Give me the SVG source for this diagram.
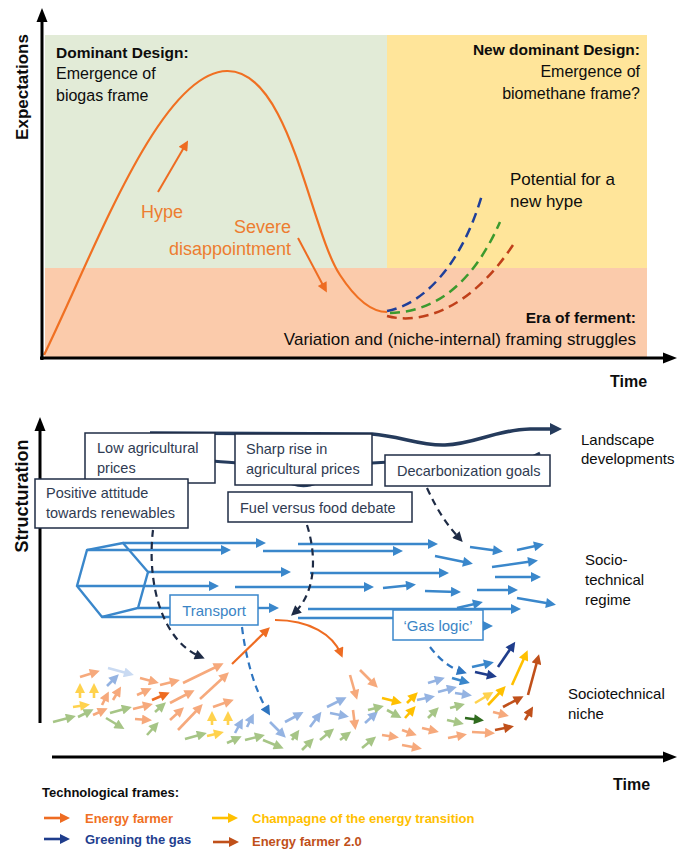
<svg xmlns="http://www.w3.org/2000/svg" width="679" height="851" viewBox="0 0 679 851">
<style>
text{font-family:"Liberation Sans",Arial,sans-serif;fill:#0d0d0d}
.b15{font-size:15.5px;font-weight:bold}
.r16{font-size:16px}
.r17{font-size:17px}
.or{font-size:18px;fill:#ed7d31}
.axis{font-size:17px;font-weight:bold}
.bx{fill:#fff;stroke:#1f2d45;stroke-width:1.5}
.bt{font-size:14.5px;fill:#2f3b52}
.bbx{fill:#fff;stroke:#3a87cb;stroke-width:1.5}
.bbt{font-size:15px;fill:#3a84c5}
.lab{font-size:15px}
.leg{font-size:13px;font-weight:bold}
.reg{stroke:#3a87cb;stroke-width:2.4;fill:none;marker-end:url(#mMB)}
.regp{stroke:#3a87cb;stroke-width:2.4;fill:none}
.nav{stroke:#1e2b45;stroke-width:2.2;fill:none;stroke-dasharray:7 5;marker-end:url(#mNAV)}
.dbl{stroke:#2e75c0;stroke-width:2.2;fill:none;stroke-dasharray:7 5;marker-end:url(#mDBL)}
.ls{stroke:#253b5c;stroke-width:3.5;fill:none}
.n line{stroke-width:2.6}
.P{stroke:#f6a97c;marker-end:url(#mP)}
.O{stroke:#ee6c22;marker-end:url(#mO)}
.G{stroke:#a6c586;marker-end:url(#mG)}
.B{stroke:#94b3e2;marker-end:url(#mB)}
.VB{stroke:#c9daf2;marker-end:url(#mVB)}
.LY{stroke:#ffd24d;marker-end:url(#mLY)}
.Y{stroke:#ffc000;marker-end:url(#mY)}
.R{stroke:#c0501a;marker-end:url(#mR)}
.DB{stroke:#1f3d8c;marker-end:url(#mDB)}
.DG{stroke:#2f6b1e;marker-end:url(#mDG)}
.MB{stroke:#3a87cb;marker-end:url(#mMBs)}
</style>
<defs>
<marker id="mP" viewBox="0 0 10 10" refX="6" refY="5" markerWidth="11" markerHeight="10" markerUnits="userSpaceOnUse" orient="auto"><path d="M0,0L10,5L0,10z" fill="#f6a97c"/></marker>
<marker id="mO" viewBox="0 0 10 10" refX="6" refY="5" markerWidth="11" markerHeight="10" markerUnits="userSpaceOnUse" orient="auto"><path d="M0,0L10,5L0,10z" fill="#ee6c22"/></marker>
<marker id="mG" viewBox="0 0 10 10" refX="6" refY="5" markerWidth="11" markerHeight="10" markerUnits="userSpaceOnUse" orient="auto"><path d="M0,0L10,5L0,10z" fill="#a6c586"/></marker>
<marker id="mB" viewBox="0 0 10 10" refX="6" refY="5" markerWidth="11" markerHeight="10" markerUnits="userSpaceOnUse" orient="auto"><path d="M0,0L10,5L0,10z" fill="#94b3e2"/></marker>
<marker id="mVB" viewBox="0 0 10 10" refX="6" refY="5" markerWidth="11" markerHeight="10" markerUnits="userSpaceOnUse" orient="auto"><path d="M0,0L10,5L0,10z" fill="#c9daf2"/></marker>
<marker id="mLY" viewBox="0 0 10 10" refX="6" refY="5" markerWidth="11" markerHeight="10" markerUnits="userSpaceOnUse" orient="auto"><path d="M0,0L10,5L0,10z" fill="#ffd24d"/></marker>
<marker id="mY" viewBox="0 0 10 10" refX="6" refY="5" markerWidth="11" markerHeight="10" markerUnits="userSpaceOnUse" orient="auto"><path d="M0,0L10,5L0,10z" fill="#ffc000"/></marker>
<marker id="mR" viewBox="0 0 10 10" refX="6" refY="5" markerWidth="11" markerHeight="10" markerUnits="userSpaceOnUse" orient="auto"><path d="M0,0L10,5L0,10z" fill="#c0501a"/></marker>
<marker id="mDB" viewBox="0 0 10 10" refX="6" refY="5" markerWidth="11" markerHeight="10" markerUnits="userSpaceOnUse" orient="auto"><path d="M0,0L10,5L0,10z" fill="#1f3d8c"/></marker>
<marker id="mDG" viewBox="0 0 10 10" refX="6" refY="5" markerWidth="11" markerHeight="10" markerUnits="userSpaceOnUse" orient="auto"><path d="M0,0L10,5L0,10z" fill="#2f6b1e"/></marker>
<marker id="mMBs" viewBox="0 0 10 10" refX="6" refY="5" markerWidth="11" markerHeight="10" markerUnits="userSpaceOnUse" orient="auto"><path d="M0,0L10,5L0,10z" fill="#3a87cb"/></marker>
<marker id="mMB" viewBox="0 0 10 10" refX="6" refY="5" markerWidth="12" markerHeight="10" markerUnits="userSpaceOnUse" orient="auto"><path d="M0,0L10,5L0,10z" fill="#3a87cb"/></marker>
<marker id="mNAV" viewBox="0 0 10 10" refX="6" refY="5" markerWidth="12" markerHeight="10" markerUnits="userSpaceOnUse" orient="auto"><path d="M0,0L10,5L0,10z" fill="#1e2b45"/></marker>
<marker id="mDBL" viewBox="0 0 10 10" refX="6" refY="5" markerWidth="12" markerHeight="10" markerUnits="userSpaceOnUse" orient="auto"><path d="M0,0L10,5L0,10z" fill="#2e75c0"/></marker>
<marker id="mLS" viewBox="0 0 10 10" refX="5" refY="5" markerWidth="16" markerHeight="12" markerUnits="userSpaceOnUse" orient="auto"><path d="M0,0L10,5L0,10z" fill="#253b5c"/></marker>
<marker id="mOR" viewBox="0 0 10 10" refX="6" refY="5" markerWidth="12" markerHeight="10" markerUnits="userSpaceOnUse" orient="auto"><path d="M0,0L10,5L0,10z" fill="#ee6c22"/></marker>
</defs>

<!-- ===== TOP CHART ===== -->
<g id="hype-cycle">
<rect x="45" y="35" width="342" height="233" fill="#e2ebd7"/>
<rect x="387" y="35" width="260" height="233" fill="#ffe59a"/>
<rect x="45" y="268" width="602" height="89" fill="#fbcbab"/>

<path d="M44,355 C95,250 160,72 227,71 C290,70 310,230 340,275 C355,298 370,312 387,312" fill="none" stroke="#f07022" stroke-width="2.2"/>
<path d="M387,311 C420,305 460,270 482,195" fill="none" stroke="#1f3f9a" stroke-width="2.5" stroke-dasharray="10 6"/>
<path d="M390,313 C430,312 470,290 500,222" fill="none" stroke="#3c9a2e" stroke-width="2.5" stroke-dasharray="10 6"/>
<path d="M387,316 C420,325 470,310 513,245" fill="none" stroke="#c0401a" stroke-width="2.5" stroke-dasharray="10 6"/>

<line x1="158" y1="192" x2="186" y2="144" stroke="#ee6c22" stroke-width="2" marker-end="url(#mOR)"/>
<line x1="298" y1="238" x2="325" y2="289" stroke="#ee6c22" stroke-width="2" marker-end="url(#mOR)"/>

<line x1="42" y1="360" x2="42" y2="20" stroke="#000" stroke-width="3"/>
<polygon points="42,8 36.5,22 47.5,22" fill="#000"/>
<line x1="40" y1="358" x2="664" y2="358" stroke="#000" stroke-width="3"/>
<polygon points="677,358 663,352.5 663,363.5" fill="#000"/>

<text transform="translate(28,87) rotate(-90)" text-anchor="middle" class="axis">Expectations</text>
<text x="56" y="58" class="b15">Dominant Design:</text>
<text x="56" y="79" class="r16">Emergence of</text>
<text x="56" y="101" class="r16">biogas frame</text>
<text x="640" y="55" class="b15" text-anchor="end">New dominant Design:</text>
<text x="640" y="77" class="r16" text-anchor="end">Emergence of</text>
<text x="640" y="99" class="r16" text-anchor="end">biomethane frame?</text>
<text x="510" y="185" class="r17">Potential for a</text>
<text x="510" y="207" class="r17">new hype</text>
<text x="141" y="218" class="or">Hype</text>
<text x="291" y="233" class="or" text-anchor="end">Severe</text>
<text x="291" y="255" class="or" text-anchor="end">disappointment</text>
<text x="636" y="323" class="b15" text-anchor="end">Era of ferment:</text>
<text x="636" y="345" class="r17" text-anchor="end">Variation and (niche-internal) framing struggles</text>
<text x="610" y="387" class="axis" style="font-size:16px">Time</text>
</g>

<!-- ===== BOTTOM CHART ===== -->
<g id="axes-bottom">
<line x1="40" y1="723" x2="40" y2="430" stroke="#000" stroke-width="3"/>
<polygon points="40,417 34.5,431 45.5,431" fill="#000"/>
<line x1="52" y1="757" x2="664" y2="757" stroke="#000" stroke-width="3"/>
<polygon points="677,757 663,751.5 663,762.5" fill="#000"/>
<text transform="translate(28,496) rotate(-90)" text-anchor="middle" class="axis" style="font-size:18px">Structuration</text>
<text x="613" y="790" class="axis" style="font-size:16px">Time</text>
</g>

<g id="level-labels">
<text x="581" y="445" class="lab">Landscape</text>
<text x="581" y="464" class="lab">developments</text>
<text x="585" y="565" class="lab">Socio-</text>
<text x="585" y="585" class="lab">technical</text>
<text x="585" y="605" class="lab">regime</text>
<text x="568" y="699" class="lab">Sociotechnical</text>
<text x="568" y="719" class="lab">niche</text>
</g>

<g id="connectors">
<!-- landscape trajectories -->
<path class="ls" d="M150,433 L372,434 C400,436 420,446 445,445 C475,444 495,430 530,429 L556,429" marker-end="url(#mLS)"/>
<path class="ls" style="stroke-width:3" d="M150,458 C190,458 215,462 240,463 C270,470 290,490 310,485 C330,480 350,463 372,463 L390,462 C450,462 505,462 528,459 L540,453"/>

<!-- regime -->
<polygon class="regp" points="123,543 87,550 77,586 102,617 138,608 148,572"/>
<path class="reg" d="M123,543 L262,543"/>
<path class="reg" d="M298,544 L434,544"/>
<path class="reg" d="M87,550 L227,550"/>
<path class="reg" d="M263,551 L399,551"/>
<path class="reg" d="M148,572 L287,572"/>
<path class="reg" d="M310,573 L445,573"/>
<path class="reg" d="M77,586 L215,586"/>
<path class="reg" d="M235,587 L370,587"/>
<path class="reg" d="M383,588 L412,585"/>
<path class="reg" d="M425,591 L457,592"/>
<path class="reg" d="M477,590 L514,590"/>
<path class="reg" d="M517,598 L552,604"/>
<path class="regp" d="M138,608 L175,608"/>
<path class="reg" d="M258,608 L275,608"/>
<path class="reg" d="M308,609 L517,609"/>
<path class="reg" d="M457,608 L479,603"/>
<path class="regp" d="M102,617 L175,617"/>
<path class="regp" d="M298,618 L400,618"/>
<path class="reg" d="M470,626 L489,626"/>
<path class="reg" d="M435,556 L469,563"/>
<path class="reg" d="M470,547 L499,551"/>
<path class="reg" d="M517,550 L540,545"/>
<path class="reg" d="M492,567 L534,561"/>
<path class="reg" d="M495,577 L537,577"/>

<!-- landscape to regime (dashed) -->
<path class="nav" d="M153,530 C147,580 160,640 201,657"/>
<path class="nav" d="M307,525 C318,560 314,595 294,613"/>
<path class="nav" d="M427,488 C437,510 447,525 460,539"/>

<!-- regime to niche (dashed) -->
<path class="dbl" d="M242,627 C246,660 255,690 268,712"/>
<path class="dbl" d="M430,647 C440,660 450,668 463,672"/>

<!-- niche/regime orange -->
<path d="M232,664 L267,630" stroke="#ee6c22" stroke-width="2.2" fill="none" marker-end="url(#mOR)"/>
<path d="M275,620 C310,620 333,635 341,654" stroke="#ee6c22" stroke-width="2.2" fill="none" marker-end="url(#mOR)"/>

<!-- niche arrows -->
<g class="n">
<line class="P" x1="80" y1="677" x2="96" y2="672"/>
<line class="VB" x1="108" y1="668" x2="130" y2="674"/>
<line class="B" x1="107" y1="686" x2="116" y2="677"/>
<line class="LY" x1="80" y1="698" x2="80" y2="687"/>
<line class="LY" x1="94" y1="698" x2="94" y2="687"/>
<line class="P" x1="102" y1="705" x2="107" y2="695"/>
<line class="P" x1="113" y1="700" x2="119" y2="690"/>
<line class="LY" x1="73" y1="707" x2="86" y2="705"/>
<line class="G" x1="53" y1="722" x2="72" y2="717"/>
<line class="G" x1="78" y1="717" x2="90" y2="711"/>
<line class="P" x1="93" y1="715" x2="104" y2="710"/>
<line class="G" x1="110" y1="713" x2="128" y2="708"/>
<line class="G" x1="106" y1="718" x2="121" y2="727"/>
<line class="P" x1="140" y1="678" x2="155" y2="682"/>
<line class="P" x1="160" y1="685" x2="176" y2="681"/>
<line class="P" x1="183" y1="683" x2="220" y2="665"/>
<line class="P" x1="137" y1="695" x2="148" y2="690"/>
<line class="O" x1="152" y1="700" x2="166" y2="694"/>
<line class="P" x1="170" y1="703" x2="191" y2="692"/>
<line class="P" x1="200" y1="699" x2="226" y2="675"/>
<line class="P" x1="133" y1="709" x2="149" y2="705"/>
<line class="G" x1="155" y1="712" x2="163" y2="705"/>
<line class="P" x1="170" y1="720" x2="181" y2="710"/>
<line class="P" x1="178" y1="730" x2="200" y2="707"/>
<line class="P" x1="135" y1="719" x2="148" y2="720"/>
<line class="G" x1="147" y1="735" x2="156" y2="725"/>
<line class="P" x1="213" y1="707" x2="230" y2="701"/>
<line class="LY" x1="212" y1="725" x2="212" y2="715"/>
<line class="LY" x1="228" y1="725" x2="228" y2="715"/>
<line class="G" x1="185" y1="739" x2="203" y2="734"/>
<line class="LY" x1="207" y1="736" x2="220" y2="733"/>
<line class="B" x1="235" y1="733" x2="241" y2="722"/>
<line class="B" x1="247" y1="727" x2="252" y2="717"/>
<line class="G" x1="227" y1="743" x2="238" y2="738"/>
<line class="G" x1="245" y1="740" x2="261" y2="736"/>
<line class="G" x1="263" y1="740" x2="280" y2="747"/>
<line class="B" x1="270" y1="722" x2="283" y2="735"/>
<line class="B" x1="285" y1="722" x2="300" y2="714"/>
<line class="B" x1="310" y1="727" x2="319" y2="715"/>
<line class="G" x1="292" y1="740" x2="297" y2="733"/>
<line class="G" x1="302" y1="750" x2="311" y2="741"/>
<line class="G" x1="320" y1="740" x2="331" y2="731"/>
<line class="B" x1="327" y1="707" x2="343" y2="699"/>
<line class="B" x1="330" y1="713" x2="345" y2="716"/>
<line class="P" x1="350" y1="675" x2="356" y2="696"/>
<line class="P" x1="360" y1="670" x2="375" y2="685"/>
<line class="P" x1="353" y1="710" x2="355" y2="726"/>
<line class="B" x1="365" y1="723" x2="375" y2="714"/>
<line class="G" x1="368" y1="710" x2="380" y2="707"/>
<line class="G" x1="387" y1="710" x2="398" y2="716"/>
<line class="Y" x1="382" y1="698" x2="398" y2="702"/>
<line class="Y" x1="407" y1="703" x2="415" y2="695"/>
<line class="Y" x1="405" y1="718" x2="413" y2="709"/>
<line class="G" x1="340" y1="740" x2="348" y2="734"/>
<line class="G" x1="362" y1="748" x2="373" y2="739"/>
<line class="P" x1="382" y1="735" x2="395" y2="737"/>
<line class="P" x1="402" y1="730" x2="413" y2="734"/>
<line class="P" x1="402" y1="745" x2="418" y2="748"/>
<line class="P" x1="422" y1="728" x2="435" y2="731"/>
<line class="G" x1="428" y1="718" x2="436" y2="710"/>
<line class="G" x1="450" y1="708" x2="461" y2="705"/>
<line class="G" x1="447" y1="720" x2="460" y2="723"/>
<line class="DG" x1="465" y1="718" x2="480" y2="720"/>
<line class="P" x1="448" y1="738" x2="463" y2="735"/>
<line class="P" x1="472" y1="732" x2="491" y2="733"/>
<line class="R" x1="495" y1="730" x2="510" y2="727"/>
<line class="P" x1="493" y1="712" x2="505" y2="715"/>
<line class="R" x1="503" y1="707" x2="520" y2="698"/>
<line class="R" x1="525" y1="720" x2="531" y2="710"/>
<line class="LY" x1="475" y1="703" x2="490" y2="694"/>
<line class="Y" x1="488" y1="705" x2="503" y2="689"/>
<line class="B" x1="417" y1="700" x2="431" y2="697"/>
<line class="B" x1="428" y1="683" x2="441" y2="679"/>
<line class="B" x1="438" y1="692" x2="453" y2="688"/>
<line class="B" x1="455" y1="693" x2="468" y2="695"/>
<line class="MB" x1="452" y1="678" x2="466" y2="682"/>
<line class="MB" x1="472" y1="667" x2="490" y2="663"/>
<line class="DB" x1="475" y1="672" x2="493" y2="676"/>
<line class="DB" x1="498" y1="667" x2="513" y2="645"/>
<line class="Y" x1="512" y1="685" x2="526" y2="654"/>
<line class="R" x1="528" y1="695" x2="538" y2="658"/>
</g>
</g>

<!-- landscape nodes -->
<g id="node-low-agri"><rect class="bx" x="85" y="433" width="130" height="50"/><text x="97" y="453" class="bt">Low agricultural</text><text x="97" y="473" class="bt">prices</text></g>
<g id="node-positive"><rect class="bx" x="35" y="479" width="153" height="49"/><text x="46" y="498" class="bt">Positive attitude</text><text x="46" y="518" class="bt">towards renewables</text></g>
<g id="node-sharp-rise"><rect class="bx" x="235" y="434" width="137" height="51"/><text x="246" y="454" class="bt">Sharp rise in</text><text x="246" y="474" class="bt">agricultural prices</text></g>
<g id="node-decarb"><rect class="bx" x="385" y="455" width="165" height="31"/><text x="397" y="476" class="bt">Decarbonization goals</text></g>
<g id="node-fuel-food"><rect class="bx" x="228" y="492" width="184" height="30"/><text x="240" y="513" class="bt">Fuel versus food debate</text></g>

<!-- regime nodes -->
<g id="node-transport"><rect class="bbx" x="170" y="595" width="88" height="30"/><text x="214" y="616" class="bbt" text-anchor="middle">Transport</text></g>
<g id="node-gas-logic"><rect class="bbx" x="393" y="610" width="90" height="30"/><text x="438" y="631" class="bbt" text-anchor="middle">‘Gas logic’</text></g>

<!-- legend -->
<g id="legend">
<text x="42" y="797" class="leg">Technological frames:</text>
<g class="n">
<line class="O" x1="44" y1="818" x2="66" y2="818"/>
<line class="DB" x1="44" y1="839" x2="66" y2="839"/>
<line class="Y" x1="212" y1="818" x2="234" y2="818"/>
<line class="R" x1="213" y1="842" x2="235" y2="842"/>
</g>
<text x="85" y="823" class="leg" style="fill:#f07024">Energy farmer</text>
<text x="85" y="844" class="leg" style="fill:#1f3f8f">Greening the gas</text>
<text x="252" y="823" class="leg" style="fill:#ffc000">Champagne of the energy transition</text>
<text x="252" y="846" class="leg" style="fill:#c0501a">Energy farmer 2.0</text>
</g>
</svg>
